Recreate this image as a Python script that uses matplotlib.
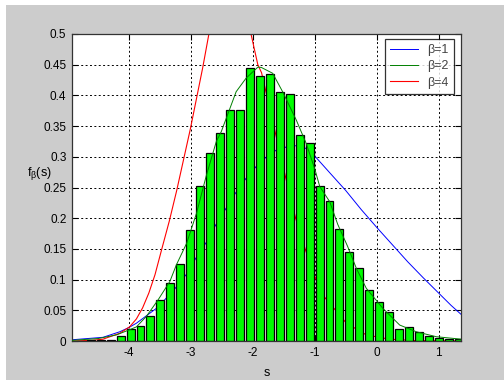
import matplotlib
matplotlib.use("Agg")
import matplotlib.pyplot as plt
from matplotlib.patches import Rectangle
import numpy as np

plt.rcParams['font.family'] = ['Liberation Sans', 'DejaVu Sans']
plt.rcParams['mathtext.fontset'] = 'custom'
plt.rcParams['mathtext.rm'] = 'Liberation Sans'
plt.rcParams['mathtext.it'] = 'Liberation Sans'

# histogram bars
bar_centers = [-4.778, -4.618, -4.457, -4.296, -4.136,
               -3.975, -3.814, -3.654, -3.493, -3.333, -3.172, -3.011, -2.851,
               -2.690, -2.530, -2.369, -2.208, -2.048, -1.887, -1.727, -1.566,
               -1.405, -1.245, -1.084, -0.924, -0.763, -0.602, -0.442, -0.281,
               -0.121, 0.040, 0.201, 0.362, 0.522, 0.683, 0.843, 1.004, 1.164, 1.325]
bar_heights = [0.0006, 0.001, 0.002, 0.002, 0.008,
               0.020, 0.025, 0.040, 0.067, 0.095, 0.126, 0.180, 0.252,
               0.306, 0.339, 0.376, 0.377, 0.444, 0.432, 0.435, 0.405,
               0.402, 0.335, 0.322, 0.253, 0.228, 0.182, 0.145, 0.119,
               0.083, 0.063, 0.047, 0.020, 0.022, 0.014, 0.0087, 0.0054, 0.0027, 0.003]

# beta = 1 curve
s1 = [-4.92, -4.42, -4.15, -4.0, -3.88, -3.56, -3.3, -3.07, -2.92, -2.75, -2.6, -2.44,
      -2.28, -2.11, -1.94, -1.78, -1.62, -1.46, -1.31, -1.15, -0.99, -0.75, -0.5,
      -0.25, 0.0, 0.25, 0.5, 0.75, 1.0, 1.2, 1.36]
f1 = [0.002, 0.006, 0.015, 0.022, 0.029, 0.053, 0.080, 0.109, 0.135, 0.161, 0.189, 0.215,
      0.241, 0.265, 0.285, 0.300, 0.311, 0.316, 0.318, 0.314, 0.300, 0.273, 0.245,
      0.214, 0.185, 0.157, 0.129, 0.103, 0.078, 0.058, 0.0435]

# beta = 2 curve
s2 = [-4.92, -4.5, -4.2, -4.0, -3.88, -3.72, -3.53, -3.34, -3.235, -3.07, -2.91, -2.75,
      -2.59, -2.51, -2.27, -2.11, -1.92, -1.865, -1.68, -1.52, -1.30, -1.14, -1.0,
      -0.92, -0.76, -0.63, -0.47, -0.33, -0.17, 0.10, 0.37, 0.64, 0.96, 1.36]
f2 = [0.001, 0.004, 0.010, 0.018, 0.023, 0.040, 0.067, 0.097, 0.124, 0.159, 0.208, 0.270,
      0.325, 0.341, 0.406, 0.428, 0.446, 0.4456, 0.436, 0.406, 0.360, 0.322, 0.280,
      0.2515, 0.227, 0.190, 0.154, 0.1185, 0.086, 0.053, 0.026, 0.015, 0.007, 0.003]

# beta = 4 curve
s4 = [-4.92, -4.6, -4.42, -4.15, -3.99, -3.88, -3.78, -3.68, -3.58, -3.47, -3.35, -3.23,
      -3.12, -3.01, -2.91, -2.81, -2.71, -2.55, -2.35, -2.15, -2.03, -1.92, -1.86,
      -1.63, -1.47, -1.31, -1.15, -1.0, -0.84, -0.49, -0.17, 0.2, 0.6, 1.36]
f4 = [0.0, 0.001, 0.003, 0.0125, 0.023, 0.036, 0.054, 0.078, 0.108, 0.150, 0.195, 0.245,
      0.295, 0.345, 0.395, 0.445, 0.500, 0.570, 0.610, 0.570, 0.500, 0.450, 0.437,
      0.336, 0.266, 0.200, 0.148, 0.105, 0.071, 0.029, 0.010, 0.003, 0.0008, 0.0]

legend_labels = ['β=1', 'β=2', 'β=4']
xticks = [-4, -3, -2, -1, 0, 1]
yticks = [0, 0.05, 0.1, 0.15, 0.2, 0.25, 0.3, 0.35, 0.4, 0.45, 0.5]

fig = plt.figure(figsize=(5.04, 3.80), dpi=100, facecolor='white')
fig.patches.append(Rectangle((6 / 504, 0), 1, 1 - 5 / 380, transform=fig.transFigure,
                             facecolor='#cccccc', edgecolor='none', zorder=-10))
ax = fig.add_axes([72 / 504, 1 - 341 / 380, 389 / 504, 307 / 380])
ax.set_facecolor('white')

ax.bar(bar_centers, bar_heights, width=0.1285, color='#00ff00', edgecolor='black',
       linewidth=0.9, zorder=2)
ax.plot(s1, f1, color='#0000ff', lw=0.7, label=legend_labels[0], zorder=1)
ax.plot(s2, f2, color='#008000', lw=0.7, label=legend_labels[1], zorder=3)
ax.plot(s4, f4, color='#ff0000', lw=0.8, label=legend_labels[2], zorder=1)

ax.set_xlim(-4.92, 1.36)
ax.set_ylim(0, 0.5)
ax.set_xticks(xticks)
ax.set_xticklabels([str(t) for t in xticks])
ax.set_yticks(yticks)
ax.set_yticklabels(['0', '0.05', '0.1', '0.15', '0.2', '0.25', '0.3', '0.35', '0.4', '0.45', '0.5'])
ax.tick_params(direction='in', top=True, right=True, length=4, width=0.8,
               labelsize=8.5, pad=4)
ax.grid(True, color='black', linestyle=(0, (2, 2.5)), linewidth=0.7, zorder=0)
ax.set_axisbelow(True)
for sp in ax.spines.values():
    sp.set_color('#333333')
    sp.set_linewidth(0.9)

ax.set_xlabel('s', fontsize=9, labelpad=6)
ax.set_ylabel(r'f$_\mathregular{β}$(s)', fontsize=9, rotation=0, ha='center', va='center')
ax.yaxis.set_label_coords(-0.085, 0.545)

leg = ax.legend(loc='upper right', bbox_to_anchor=(0.982, 0.984), borderaxespad=0,
                fontsize=9, frameon=True, fancybox=False, handlelength=2.2,
                handletextpad=0.8, borderpad=0.4, labelspacing=0.35)
leg.get_frame().set_edgecolor('black')
leg.get_frame().set_linewidth(0.9)
for t in leg.get_texts():
    t.set_color('#444444')

fig.savefig('out.png', dpi=100, facecolor=fig.get_facecolor())
